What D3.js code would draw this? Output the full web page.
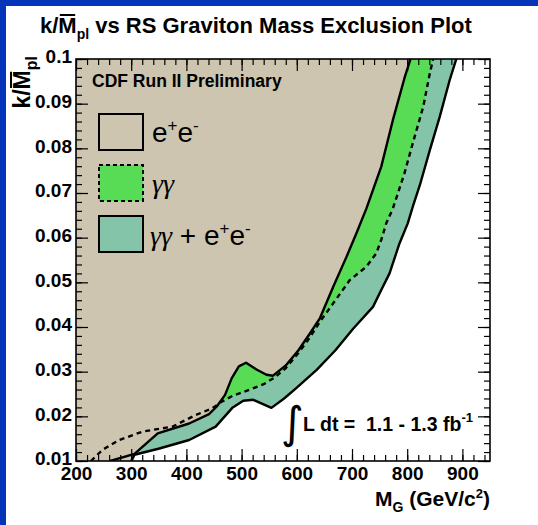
<!DOCTYPE html>
<html><head><meta charset="utf-8">
<script src="https://cdn.jsdelivr.net/npm/d3@7"></script>
<style>body{margin:0;background:#fff}svg{display:block}</style>
</head><body>
<script>
// ---- data ----
const xMajorTicks = [200, 300, 400, 500, 600, 700, 800, 900];
const xTickLabels = ["200", "300", "400", "500", "600", "700", "800", "900"];
const yMajorTicks = [0.01, 0.02, 0.03, 0.04, 0.05, 0.06, 0.07, 0.08, 0.09, 0.1];
const yTickLabels = ["0.01", "0.02", "0.03", "0.04", "0.05", "0.06", "0.07", "0.08", "0.09", "0.1"];

// e+e- limit (solid)
const eeMass = [262, 306, 348, 405, 441, 455, 470, 482, 495, 508, 527, 545, 557, 580, 603, 624, 642, 666, 690, 708, 726, 753, 774, 795, 806, 812];
const eeK    = [0.0100, 0.0116, 0.0162, 0.0184, 0.0205, 0.0222, 0.0248, 0.0285, 0.0312, 0.0320, 0.0305, 0.0293, 0.0291, 0.0314, 0.0348, 0.0386, 0.0420, 0.0490, 0.0557, 0.0610, 0.0665, 0.0759, 0.0863, 0.0957, 0.1000, 0.1030];

// gamma gamma limit (dashed)
const ggMass = [227, 248, 278, 321, 375, 417, 447, 463, 484, 515, 540, 560, 580, 603, 624, 642, 666, 696, 726, 744, 753, 762, 774, 795, 810, 829, 841, 847, 852];
const ggK    = [0.0100, 0.0125, 0.0147, 0.0166, 0.0177, 0.0203, 0.0218, 0.0232, 0.0246, 0.0260, 0.0272, 0.0287, 0.0308, 0.0342, 0.0377, 0.0412, 0.0453, 0.0505, 0.0535, 0.0565, 0.0595, 0.0632, 0.0665, 0.0744, 0.0811, 0.0893, 0.0968, 0.1000, 0.1030];

// combined limit (solid)
const combMass = [300, 306, 351, 405, 453, 484, 503, 521, 554, 577, 599, 636, 670, 702, 738, 753, 768, 786, 801, 810, 823, 841, 859, 877, 889, 895];
const combK    = [0.0100, 0.0114, 0.0128, 0.0147, 0.0177, 0.0220, 0.0235, 0.0237, 0.0219, 0.0240, 0.0263, 0.0304, 0.0348, 0.0396, 0.0445, 0.0483, 0.0520, 0.0587, 0.0632, 0.0669, 0.0718, 0.0796, 0.0871, 0.0953, 0.1000, 0.1030];

// ---- layout ----
const W = 538, H = 525;
const P = {l: 76, r: 490, t: 59, b: 461};
const colBeige = "#cdc5af", colGreen = "#58dc55", colTeal = "#84c4a8", colBlue = "#0533b9";
const SANS = "'Liberation Sans', Arial, Helvetica, sans-serif";
const SERIF = "'Liberation Serif', 'Times New Roman', serif";

const svg = d3.select("body").append("svg").attr("width", W).attr("height", H);
svg.append("rect").attr("width", W).attr("height", H).attr("fill", "#fff");
svg.append("rect").attr("width", W).attr("height", 6).attr("fill", colBlue);
svg.append("rect").attr("width", 6).attr("height", H).attr("fill", colBlue);

const x = d3.scaleLinear().domain([200, 950]).range([P.l, P.r]);
const y = d3.scaleLinear().domain([0.01, 0.1]).range([P.b, P.t]);

svg.append("clipPath").attr("id", "clip").append("rect")
  .attr("x", P.l).attr("y", P.t).attr("width", P.r - P.l).attr("height", P.b - P.t);

const g = svg.append("g").attr("clip-path", "url(#clip)");
const zip = (ms, ks) => ms.map((m, i) => [m, ks[i]]);
const line = d3.line().x(d => x(d[0])).y(d => y(d[1]));

function region(pts, startBottomAt) {
  const kTop = 0.11;
  const last = pts[pts.length - 1];
  const poly = [[200, 0.01], [startBottomAt, 0.01]].concat(pts).concat([[last[0], kTop], [200, kTop]]);
  return line(poly) + "Z";
}

const eePts = zip(eeMass, eeK), ggPts = zip(ggMass, ggK), combPts = zip(combMass, combK);
g.append("path").attr("d", region(combPts, combMass[0])).attr("fill", colTeal);
g.append("path").attr("d", region(ggPts, ggMass[0])).attr("fill", colGreen);
g.append("path").attr("d", region(eePts.slice(1), eeMass[1])).attr("fill", colBeige);

g.append("path").attr("d", line(combPts)).attr("fill", "none").attr("stroke", "#000").attr("stroke-width", 2.4).attr("stroke-linejoin", "round");
g.append("path").attr("d", line(eePts)).attr("fill", "none").attr("stroke", "#000").attr("stroke-width", 2.4).attr("stroke-linejoin", "round");
g.append("path").attr("d", line(ggPts)).attr("fill", "none").attr("stroke", "#000").attr("stroke-width", 2.4).attr("stroke-dasharray", "5,4");

// ---- axes ----
const xMinor = d3.range(200, 951, 20);
const yMinor = d3.range(0, 46).map(i => +(0.01 + i * 0.002).toFixed(4)).filter(v => v <= 0.1);

function styleAxis(sel) {
  sel.select(".domain").remove();
  sel.selectAll("line").attr("stroke", "#000").attr("stroke-width", 1.2);
}
// minor ticks
svg.append("g").attr("transform", `translate(0,${P.b})`).call(d3.axisBottom(x).tickValues(xMinor).tickSize(-6).tickFormat("")).call(styleAxis);
svg.append("g").attr("transform", `translate(0,${P.t})`).call(d3.axisTop(x).tickValues(xMinor).tickSize(-6).tickFormat("")).call(styleAxis);
svg.append("g").attr("transform", `translate(${P.l},0)`).call(d3.axisLeft(y).tickValues(yMinor).tickSize(-6).tickFormat("")).call(styleAxis);
svg.append("g").attr("transform", `translate(${P.r},0)`).call(d3.axisRight(y).tickValues(yMinor).tickSize(-6).tickFormat("")).call(styleAxis);
// major ticks
const xb = svg.append("g").attr("transform", `translate(0,${P.b})`)
  .call(d3.axisBottom(x).tickValues(xMajorTicks).tickSize(-12).tickPadding(6).tickFormat((d, i) => xTickLabels[i])).call(styleAxis);
svg.append("g").attr("transform", `translate(0,${P.t})`).call(d3.axisTop(x).tickValues(xMajorTicks).tickSize(-12).tickFormat("")).call(styleAxis);
const yl = svg.append("g").attr("transform", `translate(${P.l},0)`)
  .call(d3.axisLeft(y).tickValues(yMajorTicks).tickSize(-12).tickPadding(4).tickFormat((d, i) => yTickLabels[i])).call(styleAxis);
svg.append("g").attr("transform", `translate(${P.r},0)`).call(d3.axisRight(y).tickValues(yMajorTicks).tickSize(-12).tickFormat("")).call(styleAxis);
[xb, yl].forEach(a => a.selectAll("text").attr("font-family", SANS).attr("font-weight", "bold").attr("font-size", 19).attr("fill", "#000"));
yl.selectAll("text").attr("dy", "0.2em");

svg.append("rect").attr("x", P.l).attr("y", P.t).attr("width", P.r - P.l).attr("height", P.b - P.t)
  .attr("fill", "none").attr("stroke", "#000").attr("stroke-width", 1.6);

// ---- text helpers ----
function richText(parent, parts, opts) {
  const t = parent.append("text").attr("x", opts.x).attr("y", opts.y)
    .attr("font-family", opts.family || SANS).attr("font-weight", opts.weight || "bold")
    .attr("font-size", opts.size).attr("fill", "#000")
    .attr("text-anchor", opts.anchor || "start")
    .style("white-space", "pre");
  let shift = 0;
  parts.forEach(p => {
    const s = t.append("tspan").text(p.t);
    const target = p.dy || 0;
    if (target - shift !== 0) s.attr("dy", target - shift);
    shift = target;
    if (p.size) s.attr("font-size", p.size);
    if (p.family) s.attr("font-family", p.family);
    if (p.style) s.attr("font-style", p.style);
    if (p.weight) s.attr("font-weight", p.weight);
  });
  return t;
}
function overline(parent, textSel, charIndex, gap, width) {
  const e = textSel.node().getExtentOfChar(charIndex);
  parent.append("line").attr("x1", e.x + 1.5).attr("x2", e.x + e.width - 1.5)
    .attr("y1", e.y + gap).attr("y2", e.y + gap).attr("stroke", "#000").attr("stroke-width", width);
}

// title
const title = richText(svg, [
  {t: "k/M"}, {t: "pl", dy: 6, size: 14}, {t: " vs RS Graviton Mass Exclusion Plot", dy: 0}
], {x: 40, y: 33, size: 22});
overline(svg, title, 2, 2, 2);

// y-axis label
const yg = svg.append("g").attr("transform", "translate(30,56) rotate(-90)");
const ylab = richText(yg, [{t: "k/M"}, {t: "pl", dy: 7, size: 16}], {x: 0, y: 0, size: 23, anchor: "end"});
overline(yg, ylab, 2, 2, 2);

// x-axis label
richText(svg, [
  {t: "M"}, {t: "G", dy: 6, size: 14}, {t: " (GeV/c", dy: 0}, {t: "2", dy: -8, size: 13}, {t: ")", dy: 0}
], {x: P.r, y: 506, size: 21, anchor: "end"});

// CDF label
richText(svg, [{t: "CDF Run II Preliminary"}], {x: 92, y: 87, size: 17.5});

// legend
const boxes = [
  {y: 114, fill: colBeige, dash: null},
  {y: 165, fill: colGreen, dash: "4,3"},
  {y: 216, fill: colTeal, dash: null}
];
boxes.forEach(b => {
  svg.append("rect").attr("x", 99).attr("y", b.y).attr("width", 44).attr("height", 36)
    .attr("fill", b.fill).attr("stroke", "#000").attr("stroke-width", 2)
    .attr("stroke-dasharray", b.dash);
});
const eeParts = [{t: "e"}, {t: "+", dy: -11, size: 17}, {t: "e", dy: 0}, {t: "-", dy: -11, size: 17}];
richText(svg, eeParts, {x: 152, y: 142, size: 28, weight: "normal"});
richText(svg, [{t: "γγ", family: SERIF, style: "italic"}], {x: 152, y: 193, size: 28, weight: "normal"});
richText(svg, [{t: "γγ", family: SERIF, style: "italic"}, {t: " + "}].concat(eeParts),
  {x: 150, y: 245, size: 28, weight: "normal"});

// luminosity
svg.append("text").attr("x", 281).attr("y", 438).attr("font-family", "'DejaVu Sans', sans-serif")
  .attr("font-size", 44).attr("fill", "#000").text("∫");
richText(svg, [
  {t: "L dt =  1.1 - 1.3 fb"}, {t: "-1", dy: -9, size: 13}
], {x: 303, y: 431, size: 19.5});
</script>
</body></html>
